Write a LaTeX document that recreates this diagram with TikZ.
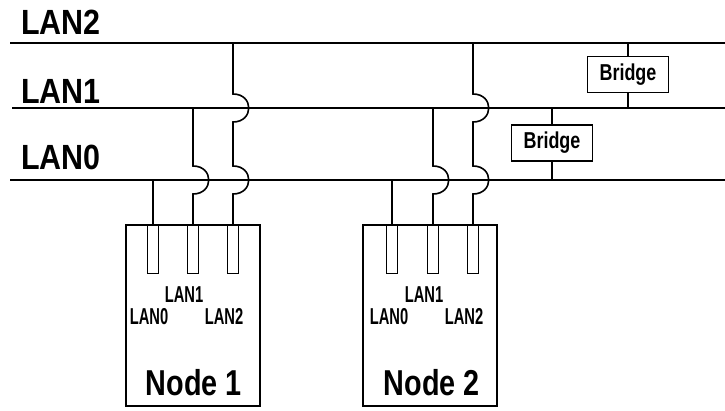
\documentclass[tikz,border=0pt]{standalone}
\usepackage{fontspec}
\setmainfont{Liberation Sans}
\newfontfamily\busfont[FakeStretch=0.87]{Liberation Sans}
\newfontfamily\tagfont[FakeStretch=0.64]{Liberation Sans}
\newfontfamily\namefont[FakeStretch=0.8]{Liberation Sans}
\newfontfamily\bridgefont[FakeStretch=0.78]{Liberation Sans}
\tikzset{
  bus/.style={line width=1.7pt},
  tap/.style={line width=1.6pt},
  host/.style={draw,line width=1.6pt,minimum width=134pt,minimum height=181pt,inner sep=0pt,anchor=north west},
  slot/.style={draw,line width=1.4pt,minimum width=11pt,minimum height=49pt,inner sep=0pt,anchor=north},
  bridgebox/.style={draw,line width=1.6pt,minimum width=81pt,minimum height=36pt,inner sep=0pt,
    font=\bridgefont\bfseries\fontsize{23}{23}\selectfont},
  buslabel/.style={anchor=base west,inner sep=0pt,font=\busfont\bfseries\fontsize{35}{35}\selectfont},
  portlabel/.style={anchor=base,inner sep=0pt,font=\tagfont\bfseries\fontsize{23}{23}\selectfont},
  hostlabel/.style={anchor=base,inner sep=0pt,font=\namefont\bfseries\fontsize{36}{36}\selectfont}
}
\begin{document}
\begin{tikzpicture}[x=1pt,y=-1pt]
  \useasboundingbox (0,0) rectangle (725,411);
  % the three LAN buses
  \coordinate (lan2w) at (10,43);  \coordinate (lan2e) at (725,43);
  \coordinate (lan1w) at (12,108); \coordinate (lan1e) at (725,108);
  \coordinate (lan0w) at (10,180); \coordinate (lan0e) at (725,180);
  \draw[bus] (lan2w) -- (lan2e);
  \draw[bus] (lan1w) -- (lan1e);
  \draw[bus] (lan0w) -- (lan0e);
  \node[buslabel] (lab2) at (21,35) {LAN2};
  \node[buslabel] (lab1) at (21,104) {LAN1};
  \node[buslabel] (lab0) at (21,170) {LAN0};
  % hosts with their three ports
  \node[host] (node1) at (125,224) {};
  \node[host] (node2) at (362,224) {};
  \foreach \h/\xa/\xb/\xc in {1/153/193/233, 2/392/433/473} {
    \node[slot] (n\h s0) at (\xa,224) {};
    \node[slot] (n\h s1) at (\xb,224) {};
    \node[slot] (n\h s2) at (\xc,224) {};
    % LAN0 straight down
    \draw[tap] (n\h s0.north |- lan0w) -- (n\h s0.north);
    % LAN1 hops over LAN0
    \draw[tap] (n\h s1.north |- lan1w) -- ++(0,58)
      .. controls +(21,0) and +(21,0) .. ++(0,28) -- (n\h s1.north);
    % LAN2 hops over LAN1 and LAN0
    \draw[tap] (n\h s2.north |- lan2w) -- ++(0,51)
      .. controls +(21,0) and +(21,0) .. ++(0,28) -- ++(0,44)
      .. controls +(21,0) and +(21,0) .. ++(0,28) -- (n\h s2.north);
  }
  % port and host labels
  \node[portlabel] (n1p1) at (184,303) {LAN1};
  \node[portlabel] (n1p0) at (149,324) {LAN0};
  \node[portlabel] (n1p2) at (224,324) {LAN2};
  \node[hostlabel] (n1name) at (194,395) {Node 1};
  \node[portlabel] (n2p1) at (424,303) {LAN1};
  \node[portlabel] (n2p0) at (389,324) {LAN0};
  \node[portlabel] (n2p2) at (464,324) {LAN2};
  \node[hostlabel] (n2name) at (432,395) {Node 2};
  % bridges between the buses
  \node[bridgebox] (br21) at (628,74.5) {Bridge};
  \node[bridgebox] (br10) at (552,143) {Bridge};
  \draw[tap] (br21.north |- lan2w) -- (br21.north);
  \draw[tap] (br21.south) -- (br21.south |- lan1w);
  \draw[tap] (br10.north |- lan1w) -- (br10.north);
  \draw[tap] (br10.south) -- (br10.south |- lan0w);
\end{tikzpicture}
\end{document}
